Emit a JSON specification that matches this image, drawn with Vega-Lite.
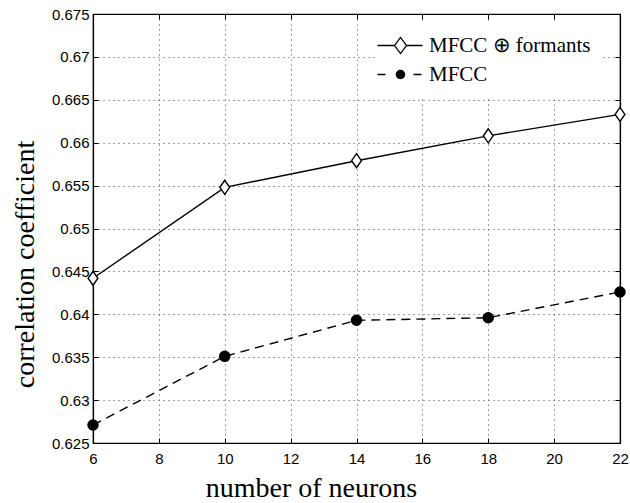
{
  "$schema": "https://vega.github.io/schema/vega-lite/v6.json",
  "width": 527,
  "height": 429,
  "autosize": {"type": "none"},
  "padding": {"left": 93, "top": 14, "right": 10, "bottom": 60},
  "background": "white",
  "config": {
    "view": {"stroke": "black", "strokeWidth": 1.2},
    "axis": {"labelFlush": false, "labelOverlap": false}
  },
  "data": {
    "values": [
      {"neurons": 6, "corr": 0.6442, "series": "MFCC ⊕ formants"},
      {"neurons": 10, "corr": 0.6548, "series": "MFCC ⊕ formants"},
      {"neurons": 14, "corr": 0.6579, "series": "MFCC ⊕ formants"},
      {"neurons": 18, "corr": 0.6608, "series": "MFCC ⊕ formants"},
      {"neurons": 22, "corr": 0.6633, "series": "MFCC ⊕ formants"},
      {"neurons": 6, "corr": 0.6271, "series": "MFCC"},
      {"neurons": 10, "corr": 0.6351, "series": "MFCC"},
      {"neurons": 14, "corr": 0.6393, "series": "MFCC"},
      {"neurons": 18, "corr": 0.6396, "series": "MFCC"},
      {"neurons": 22, "corr": 0.6426, "series": "MFCC"}
    ]
  },
  "layer": [
    {
      "transform": [{"filter": "datum.series !== 'MFCC'"}],
      "mark": {"type": "line", "color": "black", "strokeWidth": 1.4},
      "encoding": {
        "x": {
          "field": "neurons", "type": "quantitative",
          "scale": {"domain": [6, 22], "nice": false, "zero": false},
          "axis": {
            "orient": "bottom",
            "values": [6, 8, 10, 12, 14, 16, 18, 20, 22],
            "grid": true, "gridDash": [1, 4], "gridColor": "#444", "gridWidth": 1,
            "domain": true, "domainColor": "black", "domainWidth": 1.2,
            "ticks": true, "tickSize": -5, "tickColor": "black", "tickWidth": 1,
            "labelFont": "Liberation Sans", "labelFontSize": 15, "labelColor": "black", "labelPadding": 13,
            "title": "number of neurons", "titleFont": "Liberation Serif", "titleFontSize": 28,
            "titleFontWeight": "normal", "titleColor": "black",
            "titleX": 218, "titleY": 53, "titleBaseline": "alphabetic", "titleAlign": "center"
          }
        },
        "y": {
          "field": "corr", "type": "quantitative",
          "scale": {"domain": [0.625, 0.675], "nice": false, "zero": false},
          "axis": {
            "orient": "left",
            "values": [0.625, 0.63, 0.635, 0.64, 0.645, 0.65, 0.655, 0.66, 0.665, 0.67, 0.675],
            "format": ".3~f",
            "grid": true, "gridDash": [1, 4], "gridColor": "#444", "gridWidth": 1,
            "domain": true, "domainColor": "black", "domainWidth": 1.2,
            "ticks": true, "tickSize": -5, "tickColor": "black", "tickWidth": 1,
            "labelFont": "Liberation Sans", "labelFontSize": 15, "labelColor": "black", "labelPadding": 9,
            "title": "correlation coefficient", "titleFont": "Liberation Serif", "titleFontSize": 28,
            "titleFontWeight": "normal", "titleColor": "black",
            "titleX": -60, "titleY": 250, "titleBaseline": "alphabetic", "titleAlign": "center", "titleAngle": -90
          }
        }
      }
    },
    {
      "transform": [{"filter": "datum.series === 'MFCC'"}],
      "mark": {"type": "line", "color": "black", "strokeWidth": 1.4, "strokeDash": [9, 6]},
      "encoding": {
        "x": {"field": "neurons", "type": "quantitative", "axis": null},
        "y": {"field": "corr", "type": "quantitative", "axis": null}
      }
    },
    {
      "mark": {"type": "point", "filled": true, "stroke": "black", "strokeWidth": 1.4, "opacity": 1, "size": 196},
      "encoding": {
        "x": {
          "field": "neurons", "type": "quantitative",
          "axis": {
            "orient": "top", "values": [6, 8, 10, 12, 14, 16, 18, 20, 22],
            "labels": false, "grid": false, "title": null,
            "domain": true, "domainColor": "black", "domainWidth": 1.2,
            "ticks": true, "tickSize": -5, "tickColor": "black", "tickWidth": 1
          }
        },
        "y": {
          "field": "corr", "type": "quantitative",
          "axis": {
            "orient": "right",
            "values": [0.625, 0.63, 0.635, 0.64, 0.645, 0.65, 0.655, 0.66, 0.665, 0.67, 0.675],
            "labels": false, "grid": false, "title": null,
            "domain": true, "domainColor": "black", "domainWidth": 1.2,
            "ticks": true, "tickSize": -5, "tickColor": "black", "tickWidth": 1
          }
        },
        "shape": {
          "field": "series", "type": "nominal",
          "scale": {
            "domain": ["MFCC ⊕ formants", "MFCC"],
            "range": ["M 0 -1 L 0.7 0 L 0 1 L -0.7 0 Z", "M 0.72 0 A 0.72 0.72 0 1 1 -0.72 0 A 0.72 0.72 0 1 1 0.72 0 Z"]
          },
          "legend": null
        },
        "fill": {
          "field": "series", "type": "nominal",
          "scale": {"domain": ["MFCC ⊕ formants", "MFCC"], "range": ["white", "black"]},
          "legend": null
        }
      }
    },
    {
      "transform": [{"filter": "false"}],
      "mark": {"type": "point", "filled": true, "color": "black", "opacity": 1},
      "encoding": {
        "x": {"field": "neurons", "type": "quantitative", "axis": null},
        "y": {"field": "corr", "type": "quantitative", "axis": null},
        "shape": {
          "field": "series", "type": "nominal",
          "scale": {
            "domain": ["MFCC ⊕ formants", "MFCC"],
            "range": [
              "M -2.3 -0.07 L -0.6 -0.07 L -0.6 0.07 L -2.3 0.07 Z M 0.6 -0.07 L 2.2 -0.07 L 2.2 0.07 L 0.6 0.07 Z M 0 -0.9 L 0.68 0 L 0 0.9 L -0.68 0 Z M 0 -0.7 L -0.52 0 L 0 0.7 L 0.52 0 Z",
              "M -2.3 -0.07 L -1.5 -0.07 L -1.5 0.07 L -2.3 0.07 Z M 1.3 -0.07 L 2.1 -0.07 L 2.1 0.07 L 1.3 0.07 Z M 0.47 0 A 0.47 0.47 0 1 1 -0.47 0 A 0.47 0.47 0 1 1 0.47 0 Z"
            ]
          },
          "legend": {
            "orient": "none", "legendX": 285, "legendY": 9, "title": null,
            "padding": 12, "fillColor": "white",
            "labelFont": "Liberation Serif", "labelFontSize": 21, "labelColor": "black", "labelLimit": 0,
            "labelOffset": 18, "rowPadding": 7, "symbolSize": 400,
            "symbolFillColor": "black", "symbolStrokeColor": "transparent", "symbolStrokeWidth": 0, "symbolOpacity": 1
          }
        }
      }
    }
  ],
  "resolve": {
    "axis": {"x": "independent", "y": "independent"},
    "scale": {"shape": "independent", "fill": "independent"}
  }
}
